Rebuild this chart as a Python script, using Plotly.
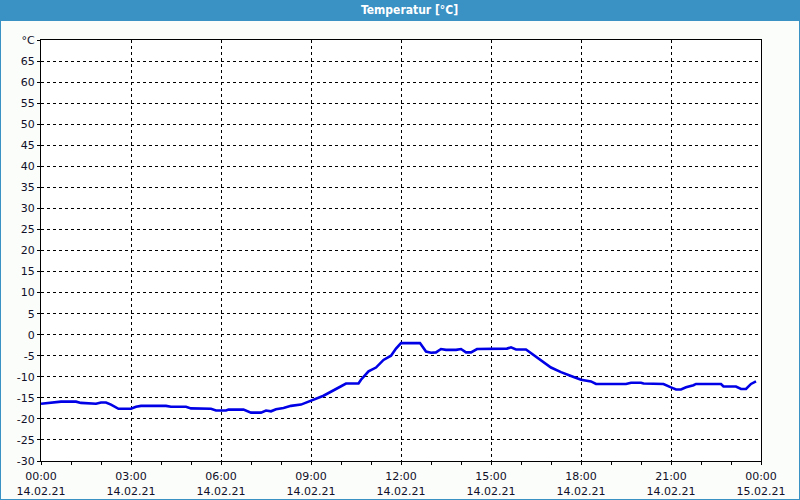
import plotly.graph_objects as go
from datetime import datetime, timedelta

# Data: minutes after 14.02.21 00:00 and temperature (°C)
minutes = [0, 20, 40, 70, 80, 110, 120, 130, 140, 155, 180, 190, 200, 250, 260, 290,
           300, 340, 350, 370, 375, 405, 410, 420, 440, 450, 460, 470, 485, 500,
           520, 540, 565, 590, 610, 635, 640, 655, 670, 685, 700, 710, 720, 758,
           770, 780, 790, 800, 810, 830, 840, 850, 860, 872, 932, 940, 950, 970,
           980, 1000, 1020, 1040, 1045, 1060, 1080, 1100, 1110, 1170, 1180, 1200,
           1205, 1230, 1245, 1260, 1270, 1280, 1290, 1305, 1310, 1360, 1365, 1390,
           1400, 1410, 1420, 1430]
temps = [-16.4, -16.2, -15.9, -15.9, -16.2, -16.4, -16.1, -16.1, -16.6, -17.6,
         -17.6, -17.1, -16.9, -16.9, -17.1, -17.1, -17.5, -17.6, -18.0, -18.0,
         -17.8, -17.8, -18.0, -18.5, -18.5, -18.0, -18.2, -17.7, -17.4, -16.9,
         -16.6, -15.6, -14.5, -12.9, -11.6, -11.6, -10.7, -8.7, -7.8, -6.0,
         -5.0, -3.3, -2.0, -2.0, -4.0, -4.3, -4.2, -3.4, -3.6, -3.6, -3.4,
         -4.2, -4.2, -3.4, -3.3, -3.0, -3.5, -3.5, -4.4, -6.2, -7.8, -8.9,
         -9.1, -9.8, -10.7, -11.1, -11.7, -11.7, -11.4, -11.4, -11.6, -11.6,
         -11.7, -12.5, -13.0, -13.0, -12.5, -12.0, -11.7, -11.7, -12.3, -12.3,
         -12.9, -12.9, -11.7, -11.1]

x_tick_hours = [0, 3, 6, 9, 12, 15, 18, 21, 24]
x_tick_labels = ["00:00<br>14.02.21", "03:00<br>14.02.21", "06:00<br>14.02.21",
                 "09:00<br>14.02.21", "12:00<br>14.02.21", "15:00<br>14.02.21",
                 "18:00<br>14.02.21", "21:00<br>14.02.21", "00:00<br>15.02.21"]
y_tick_vals = list(range(-30, 71, 5))
y_tick_labels = [str(v) for v in y_tick_vals[:-1]] + ["°C"]

start = datetime(2021, 2, 14)
times = [start + timedelta(minutes=m) for m in minutes]
tickvals = [start + timedelta(hours=h) for h in x_tick_hours]

blue = "#3A91C4"
fig = go.Figure()
fig.add_trace(go.Scatter(x=times, y=temps, mode="lines",
                         line=dict(color="#0000E6", width=2.6), hoverinfo="skip"))

font = dict(family="DejaVu Sans", size=11, color="#101028")
PW, PH = 720, 421  # plot area size in px
fig.update_layout(
    width=800, height=500,
    margin=dict(l=41, r=39, t=40, b=39),
    paper_bgcolor="#FBFDFB", plot_bgcolor="#FFFFFF",
    showlegend=False, font=font,
    xaxis=dict(range=[start, start + timedelta(hours=24)], tickmode="array",
               tickvals=tickvals, ticktext=x_tick_labels, automargin=False,
               showgrid=True, gridcolor="black", griddash="3px,3px", gridwidth=1,
               showline=True, linecolor="black", linewidth=1, mirror=True,
               ticks="outside", ticklen=3, tickcolor="black", zeroline=False,
               ticklabelstandoff=2,
               minor=dict(tickmode="linear", tick0=start, dtick=3600000,
                          ticks="outside", ticklen=3, tickcolor="black", showgrid=False),
               tickfont=font),
    yaxis=dict(range=[-30, 70], tickmode="array", tickvals=y_tick_vals,
               ticktext=y_tick_labels, automargin=False,
               showgrid=True, gridcolor="black", griddash="3px,3px", gridwidth=1,
               showline=True, linecolor="black", linewidth=1, mirror=True,
               ticks="outside", ticklen=3, tickcolor="black", zeroline=False,
               tickfont=font),
)

# Title bar and window border
fig.add_shape(type="rect", xref="paper", yref="paper",
              x0=-41/PW, x1=759/PW, y0=441/PH, y1=461/PH,
              fillcolor=blue, line=dict(width=0), layer="above")
fig.add_shape(type="rect", xref="paper", yref="paper",
              x0=-41/PW, x1=759/PW, y0=-39/PH, y1=441/PH,
              fillcolor="rgba(0,0,0,0)", line=dict(color=blue, width=2), layer="above")
fig.add_annotation(text="<b>Temperatur [°C]</b>", xref="paper", yref="paper",
                   x=(410 - 41)/PW, y=(461 - 10)/PH, xanchor="center", yanchor="middle",
                   showarrow=False,
                   font=dict(family="DejaVu Sans Condensed", size=12, color="white"))

fig.write_html("out.html")
